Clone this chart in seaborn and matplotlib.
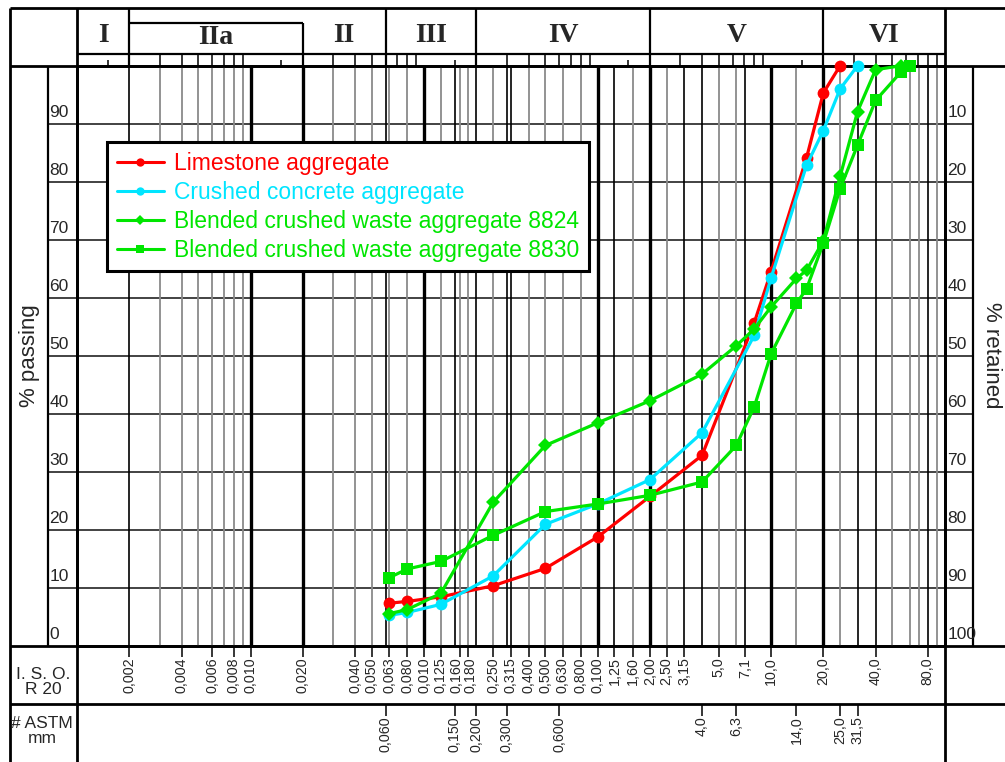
import numpy as np
import pandas as pd
import matplotlib
matplotlib.use("Agg")
import matplotlib.pyplot as plt
import seaborn as sns
from matplotlib.transforms import blended_transform_factory as blend, offset_copy
from matplotlib.lines import Line2D

# ---------------- data (sieve size in mm, % passing) ----------------
limestone_size = [0.063, 0.08, 0.125, 0.25, 0.5, 1.0, 2.0, 4.0, 8.0, 10.0, 16.0, 20.0, 25.0]
limestone_pass = [7.3, 7.6, 8.4, 10.3, 13.3, 18.7, 25.7, 32.8, 55.7, 64.5, 84.1, 95.3, 100.0]

concrete_size = [0.063, 0.08, 0.125, 0.25, 0.5, 1.0, 2.0, 4.0, 8.0, 10.0, 16.0, 20.0, 25.0, 31.5]
concrete_pass = [5.2, 5.7, 7.1, 12.0, 20.9, 24.4, 28.6, 36.7, 53.5, 63.4, 82.8, 88.8, 96.0, 100.0]

blend8824_size = [0.063, 0.08, 0.125, 0.25, 0.5, 1.0, 2.0, 4.0, 6.3, 8.0, 10.0, 14.0, 16.0,
                  20.0, 25.0, 31.5, 40.0, 56.0]
blend8824_pass = [5.5, 6.2, 9.0, 24.7, 34.5, 38.4, 42.2, 46.8, 51.7, 54.6, 58.4, 63.3, 64.7,
                  69.8, 80.9, 92.1, 99.3, 100.0]

blend8830_size = [0.063, 0.08, 0.125, 0.25, 0.5, 1.0, 2.0, 4.0, 6.3, 8.0, 10.0, 14.0, 16.0,
                  20.0, 25.0, 31.5, 40.0, 56.0, 63.0]
blend8830_pass = [11.7, 13.2, 14.5, 19.0, 23.1, 24.4, 25.9, 28.2, 34.5, 41.2, 50.3, 59.0, 61.5,
                  69.4, 78.8, 86.3, 94.0, 98.9, 100.0]

series_labels = ["Limestone aggregate", "Crushed concrete aggregate",
                 "Blended crushed waste aggregate 8824", "Blended crushed waste aggregate 8830"]

# fraction classes (header)
class_names = ["I", "IIa", "II", "III", "IV", "V", "VI"]
class_bounds = [0.001, 0.002, 0.02, 0.06, 0.2, 2.0, 20.0, 100.0]

# I.S.O. R 20 row
iso_sizes = [0.002, 0.004, 0.006, 0.008, 0.010, 0.020, 0.040, 0.050, 0.063, 0.080, 0.100,
             0.125, 0.160, 0.180, 0.250, 0.315, 0.400, 0.500, 0.630, 0.800, 1.0, 1.25, 1.60,
             2.00, 2.50, 3.15, 5.0, 7.1, 10.0, 20.0, 40.0, 80.0]
iso_labels = ["0,002", "0,004", "0,006", "0,008", "0,010", "0,020", "0,040", "0,050", "0,063",
              "0,080", "0,010", "0,125", "0,160", "0,180", "0,250", "0,315", "0,400", "0,500",
              "0,630", "0,800", "0,100", "1,25", "1,60", "2,00", "2,50", "3,15", "5,0", "7,1",
              "10,0", "20,0", "40,0", "80,0"]

# ASTM row
astm_sizes = [0.060, 0.150, 0.200, 0.300, 0.600, 4.0, 6.3, 14.0, 25.0, 31.5]
astm_labels = ["0,060", "0,150", "0,200", "0,300", "0,600", "4,0", "6,3", "14,0", "25,0", "31,5"]

# sieve grid lines
grid_thick = [0.01, 0.02, 0.1, 1.0, 2.0, 10.0, 20.0]
grid_black = [0.002, 0.06, 0.15, 0.2, 0.3, 0.315, 1.25, 3.15, 4.0, 7.1, 31.5, 40.0, 80.0]
grid_grey = [0.003, 0.004, 0.005, 0.006, 0.007, 0.008, 0.009, 0.03, 0.04, 0.05, 0.063, 0.08,
             0.125, 0.16, 0.18, 0.25, 0.4, 0.5, 0.63, 0.8, 1.6, 2.5, 5.0, 6.3, 14.0, 25.0,
             50.0, 63.0, 71.0, 90.0]

pct_ticks = [0, 10, 20, 30, 40, 50, 60, 70, 80, 90]

# ---------------- styling ----------------
sns.set_style("white")
plt.rcParams["font.family"] = ["Liberation Sans", "DejaVu Sans"]

RED = "#ff0000"
CYAN = "#00e5ff"
GREEN = "#00e600"

W, H = 1005, 762
fig = plt.figure(figsize=(W / 100, H / 100), dpi=100)

# background (pixel coordinates) axes for the table frame
bg = fig.add_axes([0, 0, 1, 1], zorder=0)
bg.set_xlim(0, W)
bg.set_ylim(H, 0)
bg.axis("off")

# main chart axes
x0, x1, y_top, y_bot = 77.1, 944.6, 65.7, 645.5
ax = fig.add_axes([x0 / W, 1 - y_bot / H, (x1 - x0) / W, (y_bot - y_top) / H], zorder=2)
ax.set_xscale("log")
ax.set_xlim(0.001, 100)
ax.set_ylim(0, 100)
ax.patch.set_alpha(0)
ax.tick_params(which="both", length=0, labelbottom=False, labelleft=False)
ax.set_xticks([])
ax.set_xticks([], minor=True)
ax.set_yticks([])
for s in ax.spines.values():
    s.set_linewidth(2)
    s.set_color("black")

tx = blend(ax.transData, bg.transData)   # x = sieve size, y = pixel
ty = blend(bg.transData, ax.transData)   # x = pixel, y = percent

# vertical grid
for v in grid_grey:
    ax.axvline(v, color="#8a8a8a", lw=1.3, zorder=1)
for v in grid_black:
    ax.axvline(v, color="black", lw=1.2, zorder=1)
for v in grid_thick:
    ax.axvline(v, color="black", lw=2.4, zorder=1)

# horizontal grid (extends into label columns)
for p in pct_ticks[1:]:
    bg.plot([48, 973], [p, p], transform=ty, color="#222222", lw=1.2, zorder=1, clip_on=False)

# ---------------- frame lines ----------------
K = dict(color="black", clip_on=False, solid_capstyle="butt")
bg.plot([10, W], [8, 8], lw=2, **K)
bg.plot([x0, x1], [53.5, 53.5], lw=1.6, **K)
bg.plot([10, W], [y_top, y_top], lw=2, **K)
bg.plot([10, W], [y_bot, y_bot], lw=2, **K)
bg.plot([10, W], [704, 704], lw=2, **K)
bg.plot([10, 10], [8, H], lw=2, **K)
bg.plot([x0, x0], [8, H], lw=2, **K)
bg.plot([x1, x1], [8, H], lw=2, **K)
bg.plot([48, 48], [y_top, y_bot], lw=1.6, **K)
bg.plot([973, 973], [y_top, y_bot], lw=1.6, **K)

# fraction classes header
for b in class_bounds[1:-1]:
    top = 22.7 if b == 0.02 else 8
    bg.plot([b, b], [top, y_top], transform=tx, lw=1.6, **K)
bg.plot([0.002, 0.02], [22.7, 22.7], transform=tx, lw=1.6, **K)
for i, name in enumerate(class_names):
    lo, hi = class_bounds[i], class_bounds[i + 1]
    xm = np.sqrt(lo * hi)
    yc = 38 if name == "IIa" else 36
    bg.text(xm, yc, name, transform=tx, ha="center", va="center",
            fontsize=20, fontweight="bold", family=["Liberation Serif", "DejaVu Serif"])

# log ladder in the header strip
for n in range(-3, 2):
    for m in range(2, 10):
        bg.plot([m * 10.0 ** n] * 2, [53.5, y_top], transform=tx, lw=1.1, **K)
    bg.plot([1.5 * 10.0 ** n] * 2, [60, y_top], transform=tx, lw=1.1, **K)

# ---------------- percent labels ----------------
for p in pct_ticks:
    bg.text(49.5, p + 0.6, str(p), transform=ty, ha="left", va="bottom", fontsize=12.5)
    bg.text(947.5, p + 0.6, str(100 - p), transform=ty, ha="left", va="bottom", fontsize=12.5)
bg.text(30, 355.5, "% passing", rotation=90, ha="center", va="center", fontsize=16)
bg.text(992, 355.5, "% retained", rotation=270, ha="center", va="center", fontsize=16)

# ---------------- sieve rows ----------------
nudge = {"0,160": -3.5, "0,180": 2.5}
for v, lab in zip(iso_sizes, iso_labels):
    bg.plot([v, v], [y_bot, 656.5], transform=tx, lw=1.1, **K)
    t = offset_copy(tx, fig=fig, x=nudge.get(lab, 0.0), y=0, units="dots")
    bg.text(v, 657.5, lab, transform=t, rotation=90, ha="center", va="top", fontsize=10.3)
for v, lab in zip(astm_sizes, astm_labels):
    bg.plot([v, v], [704, 715.5], transform=tx, lw=1.1, **K)
    bg.text(v, 716.5, lab, transform=tx, rotation=90, ha="center", va="top", fontsize=10.3)
bg.text(43, 682, "I. S. O.\nR 20", ha="center", va="center", fontsize=12.5, linespacing=0.95)
bg.text(42, 731, "# ASTM\nmm", ha="center", va="center", fontsize=12.5, linespacing=0.95)

# ---------------- curves ----------------
curves = [
    (limestone_size, limestone_pass, RED, "o", 8.5),
    (concrete_size, concrete_pass, CYAN, "o", 8.5),
    (blend8824_size, blend8824_pass, GREEN, "D", 7.2),
    (blend8830_size, blend8830_pass, GREEN, "s", 8.3),
]
for (xs, ys, col, mk, ms), lab in zip(curves, series_labels):
    df = pd.DataFrame({"size": xs, "passing": ys})
    sns.lineplot(data=df, x="size", y="passing", ax=ax, color=col, marker=mk,
                 markersize=ms, markeredgewidth=0, linewidth=2.3, legend=False,
                 zorder=4, clip_on=False)
ax.set_xlabel("")
ax.set_ylabel("")
ax.set_xlim(0.001, 100)
ax.set_ylim(0, 100)

handles = [Line2D([], [], color=c, marker=m, markersize=6 if m != "D" else 5.5,
                  markeredgewidth=0, lw=2.2)
           for (_, _, c, m, _) in curves]
leg = ax.legend(handles, series_labels, loc="upper left",
                bbox_to_anchor=(107.3 / W, 1 - 142.3 / H), bbox_transform=fig.transFigure,
                borderaxespad=0, fontsize=16.5, labelcolor="linecolor", frameon=True,
                fancybox=False, framealpha=1, edgecolor="black", handlelength=2.05,
                handletextpad=0.45, labelspacing=0.26, borderpad=0.42)
leg.get_frame().set_linewidth(2.2)
leg.set_zorder(10)

fig.savefig("out.png", dpi=100)
